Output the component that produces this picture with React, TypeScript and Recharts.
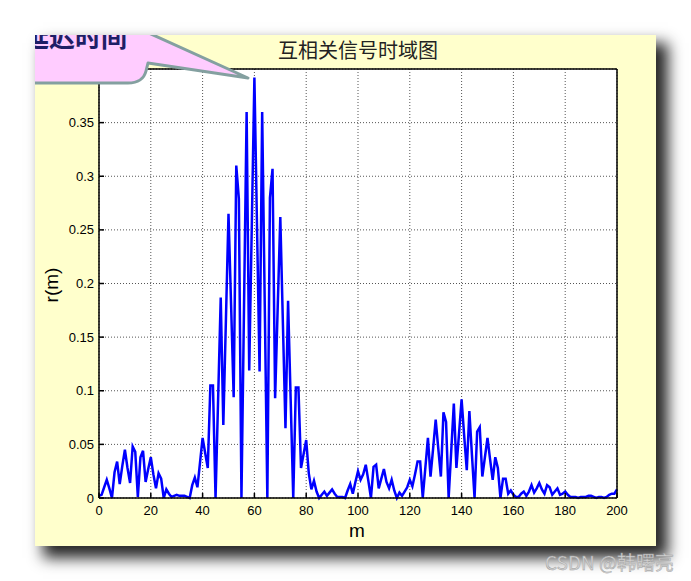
import React from "react";
import {
  LineChart,
  Line,
  XAxis,
  YAxis,
  CartesianGrid,
} from "recharts";

// r(m) for lags m = 0..200
const rValues = [
  0.002, 0.003, 0.01, 0.017, 0.009, 0, 0.024, 0.034, 0.013, 0.03,
  0.045, 0.028, 0.014, 0.048, 0.043, 0.001, 0.038, 0.044, 0.015, 0.027,
  0.038, 0.022, 0.009, 0.023, 0.018, 0, 0.008, 0.004, 0.001, 0.002,
  0.003, 0.002, 0.002, 0.002, 0.001, 0, 0.012, 0.019, 0.01, 0.033,
  0.056, 0.042, 0.028, 0.105, 0.105, 0, 0.093, 0.187, 0.068, 0.166,
  0.265, 0.18, 0.094, 0.31, 0.279, 0, 0.18, 0.36, 0.119, 0.255,
  0.392, 0.255, 0.118, 0.36, 0.18, 0, 0.28, 0.307, 0.093, 0.178,
  0.262, 0.163, 0.065, 0.184, 0.092, 0, 0.103, 0.103, 0.028, 0.041,
  0.054, 0.023, 0.008, 0.016, 0.006, 0, 0.003, 0.006, 0.002, 0.005,
  0.008, 0.004, 0.001, 0.001, 0.001, 0, 0.007, 0.013, 0.004, 0.015,
  0.025, 0.017, 0.022, 0.031, 0.016, 0, 0.029, 0.031, 0.009, 0.018,
  0.027, 0.015, 0.009, 0.017, 0.007, 0, 0.005, 0.002, 0.006, 0.01,
  0.017, 0.011, 0.022, 0.034, 0.034, 0, 0.028, 0.056, 0.02, 0.046,
  0.073, 0.046, 0.02, 0.08, 0.071, 0, 0.044, 0.088, 0.028, 0.06,
  0.092, 0.058, 0.026, 0.081, 0.04, 0, 0.062, 0.066, 0.02, 0.038,
  0.056, 0.036, 0.017, 0.038, 0.028, 0, 0.018, 0.018, 0.004, 0.007,
  0.003, 0.001, 0.001, 0.004, 0.006, 0.002, 0.006, 0.012, 0.005, 0.009,
  0.014, 0.008, 0.004, 0.012, 0.01, 0.003, 0.006, 0.009, 0.003, 0.004,
  0.006, 0.003, 0.001, 0.001, 0.001, 0, 0.001, 0.001, 0.001, 0.002,
  0.002, 0.001, 0, 0.001, 0.001, 0, 0.001, 0.003, 0.004, 0.004,
  0.008,
];

const xTicks = [0, 20, 40, 60, 80, 100, 120, 140, 160, 180, 200];
const yTicks = [0, 0.05, 0.1, 0.15, 0.2, 0.25, 0.3, 0.35, 0.4];

const TITLE = "互相关信号时域图";
const CALLOUT = "延迟时间";
const WATERMARK = "CSDN @韩曙亮";

const data = rValues.map((r, i) => ({ m: i, r }));

const sans = "'Liberation Sans', Arial, sans-serif";
const cjk = "'Noto Sans CJK SC', sans-serif";
const tickFont = { fill: "#000", fontSize: 13, fontFamily: sans };

const App = () => {
  return (
    <div style={{ position: "fixed", left: 0, top: 0, width: 691, height: 581, background: "#fff", overflow: "hidden" }}>
      <div
        style={{
          position: "absolute",
          left: 35,
          top: 35,
          width: 621,
          height: 511,
          background: "#ffffcc",
          boxShadow: "10px 10px 14px 2px rgba(0,0,0,0.85)",
          overflow: "hidden",
        }}
      >
        <div style={{ position: "absolute", left: -35, top: -35, width: 691, height: 581 }}>
          <LineChart width={691} height={581} data={data} margin={{ top: 64, right: 64, bottom: 53, left: 39 }}>
            <CartesianGrid fill="#fff" stroke="#555" strokeDasharray="1 2" />
            <XAxis
              dataKey="m"
              type="number"
              domain={[0, 200]}
              ticks={xTicks}
              interval={0}
              height={30}
              tickSize={-5}
              tickMargin={13}
              stroke="#000"
              strokeWidth={1.5}
              tick={tickFont}
            />
            <XAxis
              xAxisId="top"
              orientation="top"
              type="number"
              domain={[0, 200]}
              ticks={xTicks}
              interval={0}
              height={5}
              tickSize={-5}
              tick={false}
              stroke="#000"
              strokeWidth={1.5}
            />
            <YAxis
              type="number"
              domain={[0, 0.4]}
              ticks={yTicks}
              interval={0}
              width={60}
              tickSize={-5}
              tickMargin={10}
              stroke="#000"
              strokeWidth={1.5}
              tick={tickFont}
              tickFormatter={(v: number) => String(+v.toFixed(2))}
            />
            <YAxis
              yAxisId="right"
              orientation="right"
              type="number"
              domain={[0, 0.4]}
              ticks={yTicks}
              interval={0}
              width={10}
              tickSize={-5}
              tick={false}
              stroke="#000"
              strokeWidth={1.5}
            />
            <Line
              dataKey="r"
              type="linear"
              stroke="#0000ff"
              strokeWidth={2.5}
              dot={false}
              isAnimationActive={false}
            />
          </LineChart>

          <div
            style={{
              position: "absolute",
              left: 99,
              width: 518,
              top: 36,
              textAlign: "center",
              fontFamily: cjk,
              fontSize: 20,
              color: "#222",
              lineHeight: "28px",
            }}
          >
            {TITLE}
          </div>
          <div
            style={{
              position: "absolute",
              left: 52,
              top: 285,
              transform: "translate(-50%, -50%) rotate(-90deg)",
              fontFamily: sans,
              fontSize: 19,
              color: "#000",
              whiteSpace: "nowrap",
            }}
          >
            r(m)
          </div>
          <div
            style={{
              position: "absolute",
              left: 357,
              top: 531,
              transform: "translate(-50%, -50%)",
              fontFamily: sans,
              fontSize: 19,
              color: "#000",
            }}
          >
            m
          </div>

          <svg width={691} height={581} style={{ position: "absolute", left: 0, top: 0 }}>
            <path
              d="M 0 10 L 98 10 L 248 78 L 148 63 L 146 71 Q 143 83 128 83 L 0 83 Z"
              fill="#ffccff"
              stroke="#84a0a0"
              strokeWidth={3}
              strokeLinejoin="round"
            />
            <text x={23} y={47} fontFamily={cjk} fontWeight={700} fontSize={26} fill="#1e1e66">
              {CALLOUT}
            </text>
          </svg>
        </div>
      </div>

      <div
        style={{
          position: "absolute",
          left: 545,
          top: 548,
          fontFamily: cjk,
          fontSize: 19,
          color: "#d4d4d4",
          WebkitTextStroke: "0.4px #9a9a9a",
          whiteSpace: "nowrap",
        }}
      >
        {WATERMARK}
      </div>
    </div>
  );
};

export default App;
